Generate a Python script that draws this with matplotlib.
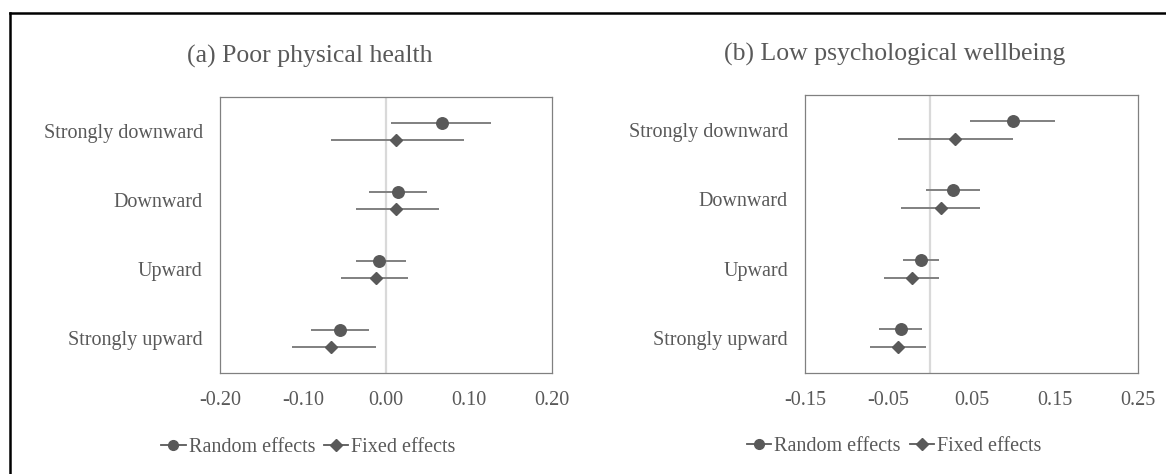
import matplotlib.pyplot as plt
from matplotlib.lines import Line2D

# Categories (top to bottom)
categories = ['Strongly downward', 'Downward', 'Upward', 'Strongly upward']

# (a) Poor physical health
phys_re = [0.068, 0.0145, -0.0085, -0.0557]
phys_re_lo = [0.006, -0.020, -0.036, -0.0905]
phys_re_hi = [0.126, 0.050, 0.024, -0.0206]
phys_fe = [0.012, 0.012, -0.0125, -0.0667]
phys_fe_lo = [-0.066, -0.036, -0.0545, -0.113]
phys_fe_hi = [0.094, 0.064, 0.026, -0.0125]

# (b) Low psychological wellbeing
psych_re = [0.099, 0.027, -0.0116, -0.0357]
psych_re_lo = [0.048, -0.005, -0.033, -0.061]
psych_re_hi = [0.150, 0.060, 0.0104, -0.010]
psych_fe = [0.030, 0.013, -0.0224, -0.0384]
psych_fe_lo = [-0.039, -0.035, -0.055, -0.072]
psych_fe_hi = [0.100, 0.060, 0.0104, -0.0048]

phys_ticks = [-0.20, -0.10, 0.00, 0.10, 0.20]
psych_ticks = [-0.15, -0.05, 0.05, 0.15, 0.25]

TEXT = '#595959'
MARK = '#595959'
BAR = '#808080'

plt.rcParams['font.family'] = ['Liberation Serif', 'DejaVu Serif']
plt.rcParams['font.size'] = 14.5


def forest(ax, re, re_lo, re_hi, fe, fe_lo, fe_hi, ticks):
    n = len(categories)
    y_re = [i - 0.13 for i in range(n)]
    y_fe = [i + 0.13 for i in range(n)]
    ax.axvline(0, color='#d9d9d9', lw=1.6, zorder=1)
    ax.hlines(y_re, re_lo, re_hi, color=BAR, lw=1.4, zorder=2)
    ax.hlines(y_fe, fe_lo, fe_hi, color=BAR, lw=1.4, zorder=2)
    ax.plot(re, y_re, 'o', color=MARK, ms=8.3, zorder=3)
    ax.plot(fe, y_fe, 'D', color=MARK, ms=6, zorder=3)
    ax.set_xlim(ticks[0], ticks[-1])
    ax.set_xticks(ticks)
    ax.set_xticklabels(['%.2f' % t for t in ticks])
    ax.set_ylim(n - 0.5, -0.5)
    ax.set_yticks(range(n))
    ax.set_yticklabels(categories)
    ax.tick_params(axis='x', length=0, pad=13, colors=TEXT, labelsize=14.5)
    ax.tick_params(axis='y', length=0, pad=12.5, colors=TEXT, labelsize=14.5)
    for s in ax.spines.values():
        s.set_color('#808080')
        s.set_linewidth(0.9)


def legend(fig, x, y):
    handles = [
        Line2D([], [], color=MARK, marker='o', ms=7, lw=1.3),
        Line2D([], [], color=MARK, marker='D', ms=6, lw=1.3),
    ]
    fig.legend(handles, ['Random effects', 'Fixed effects'], loc='center',
               bbox_to_anchor=(x, y), ncol=2, frameon=False,
               handlelength=1.2, handletextpad=0.15, columnspacing=0.45,
               labelcolor=TEXT, fontsize=14.5)


fig = plt.figure(figsize=(11.66, 4.74), dpi=100)

ax1 = fig.add_axes([0.1887, 0.2131, 0.2847, 0.5823])
forest(ax1, phys_re, phys_re_lo, phys_re_hi, phys_fe, phys_fe_lo, phys_fe_hi, phys_ticks)
ax2 = fig.add_axes([0.6907, 0.2131, 0.2856, 0.5865])
forest(ax2, psych_re, psych_re_lo, psych_re_hi, psych_fe, psych_fe_lo, psych_fe_hi, psych_ticks)

fig.text(310 / 1166, 0.869, '(a) Poor physical health', ha='center', va='baseline',
         color=TEXT, fontsize=18.5)
fig.text(895 / 1166, 0.873, '(b) Low psychological wellbeing', ha='center', va='baseline',
         color=TEXT, fontsize=18.5)

legend(fig, 308.5 / 1166, 1 - 447 / 474)
legend(fig, 894 / 1166, 1 - 446 / 474)

# black frame on the left and top edges
fig.add_artist(Line2D([0.00815, 0.00815], [0.972, 0], color='black', lw=1.8,
                      transform=fig.transFigure))
fig.add_artist(Line2D([0.00815, 1], [0.972, 0.972], color='black', lw=1.8,
                      transform=fig.transFigure))

fig.savefig('out.png', dpi=100)
